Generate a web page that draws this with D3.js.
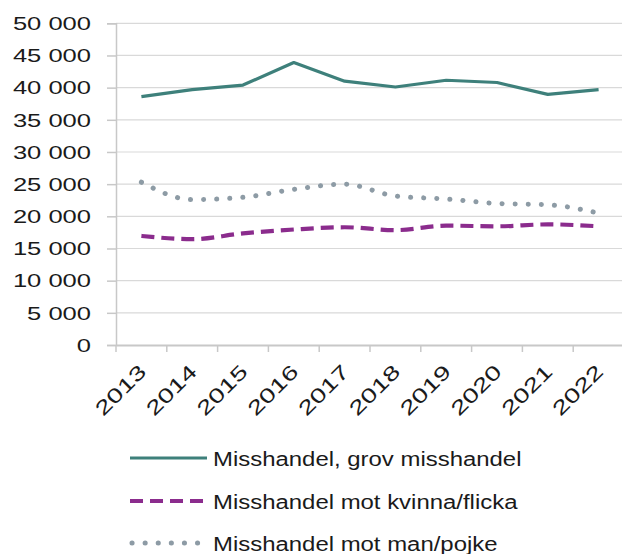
<!DOCTYPE html>
<html>
<head>
<meta charset="utf-8">
<script src="https://cdn.jsdelivr.net/npm/d3@7"></script>
<style>
  body { margin: 0; background: #fff; }
  text { font-family: "Liberation Sans", Arial, sans-serif; fill: #1a1a1a; }
</style>
</head>
<body>
<div id="chart"></div>
<script>
// data
var years = ["2013","2014","2015","2016","2017","2018","2019","2020","2021","2022"];
var grov = [38600, 39700, 40400, 43900, 41000, 40100, 41150, 40800, 38950, 39700];
var kvinna = [16950, 16450, 17350, 17950, 18300, 17850, 18550, 18450, 18750, 18450];
var man = [25300, 22600, 22950, 24200, 25000, 23150, 22700, 22000, 21800, 20500];
var yTicks = [0, 5000, 10000, 15000, 20000, 25000, 30000, 35000, 40000, 45000, 50000];
var seriesNames = ["Misshandel, grov misshandel", "Misshandel mot kvinna/flicka", "Misshandel mot man/pojke"];

var W = 622, H = 554;
var plotLeft = 116, plotRight = 624, plotTop = 23.3, plotBottom = 345;

var svg = d3.select("#chart").append("svg")
    .attr("width", W)
    .attr("height", H);

var x = d3.scaleBand().domain(years).range([plotLeft, plotRight]).padding(0);
var y = d3.scaleLinear().domain([0, 50000]).range([plotBottom, plotTop]);

var fmt = function(v) { return d3.format(",")(v).replace(/,/g, " "); };

// gridlines
svg.append("g")
  .selectAll("line")
  .data(yTicks.slice(1))
  .enter().append("line")
    .attr("x1", plotLeft).attr("x2", W)
    .attr("y1", function(d) { return y(d); })
    .attr("y2", function(d) { return y(d); })
    .attr("stroke", "#d9d9d9")
    .attr("stroke-width", 1.2);

// y axis
var yAxis = svg.append("g")
    .attr("transform", "translate(" + plotLeft + ",0)")
    .call(d3.axisLeft(y).tickValues(yTicks).tickFormat(fmt).tickSize(9).tickPadding(16));
yAxis.select(".domain").attr("stroke", "#c8c8c8").attr("stroke-width", 1.5);
yAxis.selectAll(".tick line").attr("stroke", "#c8c8c8").attr("stroke-width", 1.5);
yAxis.selectAll(".tick text")
    .style("font-size", "17.5px")
    .attr("dy", "0.36em")
    .attr("transform", function() {
      var xx = +d3.select(this).attr("x");
      return "translate(" + xx + ",0) scale(1.46,1) translate(" + (-xx) + ",0)";
    })
    .attr("fill", "#1a1a1a");

// x axis
var xAxis = svg.append("g")
    .attr("transform", "translate(0," + plotBottom + ")")
    .call(d3.axisBottom(x).tickSize(0).tickFormat(""));
xAxis.select(".domain").attr("stroke", "#c8c8c8").attr("stroke-width", 2);

// x tick marks at band edges
svg.append("g")
  .selectAll("line")
  .data(years)
  .enter().append("line")
    .attr("x1", function(d) { return x(d); })
    .attr("x2", function(d) { return x(d); })
    .attr("y1", plotBottom).attr("y2", plotBottom + 7)
    .attr("stroke", "#c8c8c8")
    .attr("stroke-width", 1.5);

// x labels rotated
svg.append("g")
  .selectAll("text")
  .data(years)
  .enter().append("text")
    .attr("text-anchor", "end")
    .style("font-size", "20px")
    .attr("transform", function(d) {
      return "translate(" + (x(d) + x.bandwidth() / 2 + 6) + "," + (plotBottom + 28) + ") rotate(-45) scale(1.4,1)";
    })
    .text(function(d) { return d; });

// lines
var pts = function(vals) { return years.map(function(yr, i) { return [x(yr) + x.bandwidth() / 2, y(vals[i])]; }); };

var smooth = d3.line().curve(d3.curveMonotoneX);

svg.append("path")
    .attr("d", smooth(pts(man)))
    .attr("fill", "none")
    .attr("stroke", "#8d9ba5")
    .attr("stroke-width", 5)
    .attr("stroke-linecap", "round")
    .attr("stroke-dasharray", "0.1 13");

svg.append("path")
    .attr("d", smooth(pts(kvinna)))
    .attr("fill", "none")
    .attr("stroke", "#8b2c8d")
    .attr("stroke-width", 4.2)
    .attr("stroke-dasharray", "13 7");

svg.append("path")
    .attr("d", d3.line()(pts(grov)))
    .attr("fill", "none")
    .attr("stroke", "#3e807b")
    .attr("stroke-width", 3.2)
    .attr("stroke-linejoin", "round");

// legend
var legStyles = [
  {stroke: "#3e807b", width: 3, dash: null, cap: "butt"},
  {stroke: "#8b2c8d", width: 4.2, dash: "13 7", cap: "butt"},
  {stroke: "#8d9ba5", width: 5, dash: "0.1 13", cap: "round"}
];
var legY = [458, 501, 543];
var leg = svg.append("g").selectAll("g")
  .data(seriesNames)
  .enter().append("g")
    .attr("transform", function(d, i) { return "translate(0," + legY[i] + ")"; });
leg.append("line")
    .attr("x1", function(d, i) { return i === 2 ? 132 : 130; })
    .attr("x2", 207)
    .attr("y1", 0).attr("y2", 0)
    .attr("stroke", function(d, i) { return legStyles[i].stroke; })
    .attr("stroke-width", function(d, i) { return legStyles[i].width; })
    .attr("stroke-dasharray", function(d, i) { return legStyles[i].dash; })
    .attr("stroke-linecap", function(d, i) { return legStyles[i].cap; });
leg.append("text")
    .attr("x", 0)
    .attr("y", 0)
    .attr("dy", "0.36em")
    .style("font-size", "21px")
    .attr("transform", "translate(213,0) scale(1.14,1)")
    .text(function(d) { return d; });
</script>
</body>
</html>
